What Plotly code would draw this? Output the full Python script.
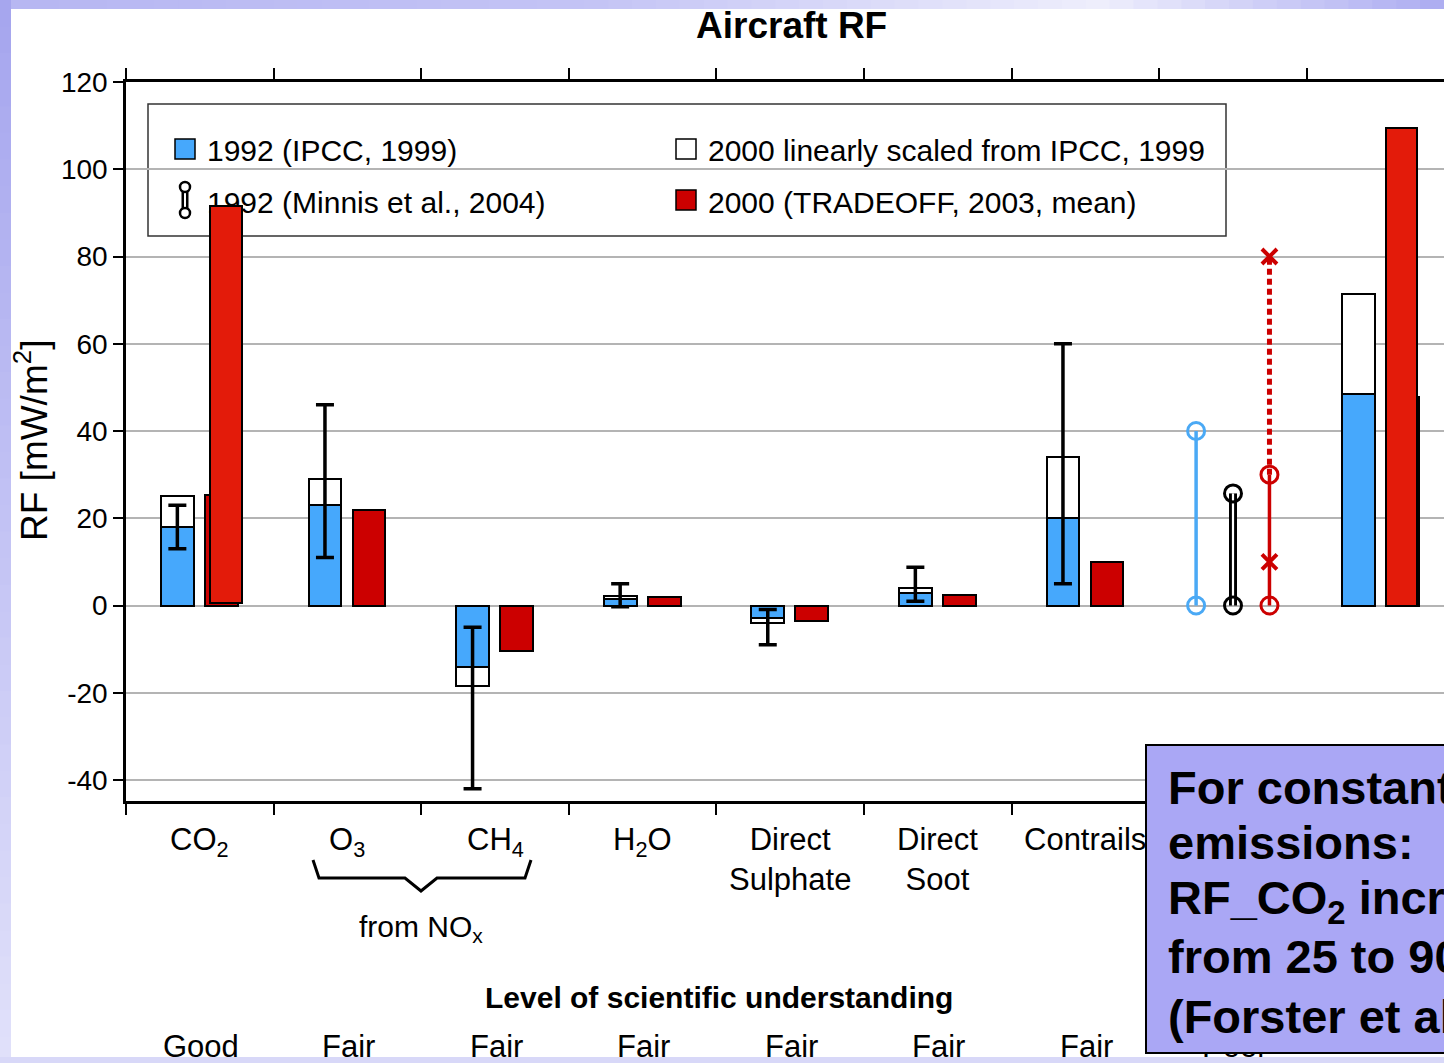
import plotly.graph_objects as go

# ---------------- data ----------------
categories = ["CO<sub>2</sub>", "O<sub>3</sub>", "CH<sub>4</sub>", "H<sub>2</sub>O",
              "Direct<br>Sulphate", "Direct<br>Soot", "Contrails", "", ""]
losu_labels = ["Good", "Fair", "Fair", "Fair", "Fair", "Fair", "Fair", "Poor", ""]
rf_1992_ipcc = [18.0, 23.0, -14.0, 1.5, -2.8, 2.9, 20.0, None, 48.5]
rf_2000_scaled = [25.0, 29.0, -18.5, 2.2, -4.0, 4.0, 34.0, None, 71.5]
rf_2000_tradeoff = [25.3, 21.9, -10.4, 2.0, -3.5, 2.5, 10.0, None, 47.8]
range_1992_low = [13.0, 11.0, -5.0, -0.3, -0.9, 1.0, 5.0, None, None]
range_1992_high = [23.0, 46.0, -42.0, 5.0, -9.0, 8.8, 60.0, None, None]
overlay_categories = [0, 8]
overlay_base = [0.6, 0.0]
overlay_top = [91.5, 109.5]
cirrus_category = 7
cirrus_ipcc_range = [0.0, 40.0]
cirrus_minnis_range = [0.0, 25.7]
cirrus_tradeoff_range = [0.0, 30.0]
cirrus_tradeoff_mean = 10.0
cirrus_tradeoff_upper = 80.0
y_ticks = [-40, -20, 0, 20, 40, 60, 80, 100, 120]
legend_labels = ["1992 (IPCC, 1999)", "1992 (Minnis et al., 2004)",
                 "2000 linearly scaled from IPCC, 1999", "2000 (TRADEOFF, 2003, mean)"]
box_lines = ["For constant aircraft", "emissions:", "RF_CO<sub>2</sub> increases",
             "from 25 to 90 mW/m²", "(Forster et al., 2006)"]

# ---------------- geometry / style ----------------
W, H = 1444, 1063
L, R, T, B = 126, 1444, 82, 801
CAT_PX = 147.6
X0 = -0.5
X1 = X0 + (R - L) / CAT_PX
Y0, Y1 = -44.8, 120.0
FONT = "Liberation Sans, Arial, Helvetica, sans-serif"
BLUE = "#46a8fc"
DRED = "#cc0000"
BRED = "#e31b0a"
BOXC = "#aaa7f5"
BOX_LINE_PX = [787, 842, 901, 956, 1016]

def px_x(px):
    return (px - L) / (R - L)

def px_y(py):
    return (B - py) / (B - T)

def dx(px):
    return X0 + (px - L) / (R - L) * (X1 - X0)

def dy(py):
    return Y1 - (py - T) / (B - T) * (Y1 - Y0)

idx = list(range(len(categories)))
BW = 0.222
OFF_B, OFF_R = -0.152, 0.146
overlay_offsets = {0: 0.176, 8: 0.142}

fig = go.Figure()

def bar(xoff, vals, color, **kw):
    return go.Bar(x=[i + xoff for i in idx], y=vals, width=BW,
                  marker=dict(color=color, line=dict(color="black", width=2)),
                  showlegend=False, hoverinfo="skip", **kw)

fig.add_trace(bar(OFF_B, rf_2000_scaled, "white"))
fig.add_trace(bar(OFF_B, rf_1992_ipcc, BLUE))
fig.add_trace(bar(OFF_R, rf_2000_tradeoff, DRED))

# uncertainty ranges
ex, ey, ee = [], [], []
for i, lo, hi in zip(idx, range_1992_low, range_1992_high):
    if lo is None:
        continue
    ex.append(i + OFF_B)
    ey.append((lo + hi) / 2)
    ee.append(abs(hi - lo) / 2)
fig.add_trace(go.Scatter(x=ex, y=ey, mode="markers",
                         marker=dict(color="rgba(0,0,0,0)", size=1),
                         error_y=dict(type="data", array=ee, symmetric=True,
                                      color="black", thickness=3.5, width=9),
                         showlegend=False, hoverinfo="skip"))

# cirrus ranges
cx = cirrus_category
fig.add_trace(go.Scatter(x=[cx - 0.25] * 2, y=cirrus_ipcc_range, mode="lines+markers",
                         line=dict(color="#4aa9f5", width=3.5),
                         marker=dict(symbol="circle-open", size=17, color="#4aa9f5",
                                     line=dict(width=3, color="#4aa9f5")),
                         showlegend=False, hoverinfo="skip"))
fig.add_trace(go.Scatter(x=[cx] * 2, y=cirrus_minnis_range, mode="lines",
                         line=dict(color="black", width=8), showlegend=False, hoverinfo="skip"))
fig.add_trace(go.Scatter(x=[cx] * 2, y=cirrus_minnis_range, mode="lines",
                         line=dict(color="white", width=2.2), showlegend=False, hoverinfo="skip"))
fig.add_trace(go.Scatter(x=[cx] * 2, y=cirrus_minnis_range, mode="markers",
                         marker=dict(symbol="circle-open", size=17, color="black",
                                     line=dict(width=3, color="black")),
                         showlegend=False, hoverinfo="skip"))
rx = cx + 0.247
fig.add_trace(go.Scatter(x=[rx] * 2, y=[cirrus_tradeoff_range[1], cirrus_tradeoff_upper],
                         mode="lines", line=dict(color=DRED, width=5, dash="6px,4px"),
                         showlegend=False, hoverinfo="skip"))
fig.add_trace(go.Scatter(x=[rx] * 2, y=cirrus_tradeoff_range, mode="lines+markers",
                         line=dict(color=DRED, width=3.5),
                         marker=dict(symbol="circle-open", size=17, color=DRED,
                                     line=dict(width=3, color=DRED)),
                         showlegend=False, hoverinfo="skip"))
fig.add_trace(go.Scatter(x=[rx] * 2, y=[cirrus_tradeoff_mean, cirrus_tradeoff_upper],
                         mode="markers",
                         marker=dict(symbol="x-thin", size=15, color=DRED,
                                     line=dict(width=4, color=DRED)),
                         showlegend=False, hoverinfo="skip"))

# legend (inside plot, drawn under the overlaid bars)
leg_sq_x = [dx(185), dx(686), dx(686)]
leg_sq_y = [dy(149), dy(149), dy(200)]
fig.add_trace(go.Scatter(x=leg_sq_x, y=leg_sq_y, mode="markers",
                         marker=dict(symbol="square", size=20, color=[BLUE, "white", DRED],
                                     line=dict(color="black", width=1.5)),
                         showlegend=False, hoverinfo="skip"))
my = [dy(187), dy(213)]
fig.add_trace(go.Scatter(x=[dx(185)] * 2, y=my, mode="lines",
                         line=dict(color="black", width=7), showlegend=False, hoverinfo="skip"))
fig.add_trace(go.Scatter(x=[dx(185)] * 2, y=my, mode="lines",
                         line=dict(color="white", width=2), showlegend=False, hoverinfo="skip"))
fig.add_trace(go.Scatter(x=[dx(185)] * 2, y=my, mode="markers",
                         marker=dict(symbol="circle", size=10, color="white",
                                     line=dict(color="black", width=2.5)),
                         showlegend=False, hoverinfo="skip"))
fig.add_trace(go.Scatter(x=[dx(207), dx(207), dx(708), dx(708)],
                         y=[dy(153), dy(205), dy(153), dy(205)],
                         mode="text", text=legend_labels, textposition="middle right",
                         textfont=dict(family=FONT, size=30, color="black"),
                         showlegend=False, hoverinfo="skip"))

# overlaid bright-red bars (pasted on top in the original)
fig.add_trace(go.Bar(x=[c + overlay_offsets[c] for c in overlay_categories],
                     y=[t - b for t, b in zip(overlay_top, overlay_base)],
                     base=overlay_base, width=0.215, yaxis="y2",
                     marker=dict(color=BRED, line=dict(color="black", width=2)),
                     showlegend=False, hoverinfo="skip"))

# ---------------- shapes ----------------
shapes = []
shapes.append(dict(type="rect", xref="paper", yref="paper", layer="below",
                   x0=px_x(-5), x1=px_x(W + 5), y0=px_y(-5), y1=px_y(H + 5),
                   fillcolor="#d6d6f8", line=dict(width=0)))
shapes.append(dict(type="rect", xref="paper", yref="paper", layer="below",
                   x0=px_x(11), x1=px_x(W + 5), y0=px_y(9), y1=px_y(1057),
                   fillcolor="white", line=dict(width=0)))

def lerp(c0, c1, t):
    return tuple(int(round(a + (b - a) * t)) for a, b in zip(c0, c1))

n = 40
for k in range(n):
    t = k / (n - 1)
    c = lerp((166, 166, 238), (224, 224, 250), t)
    shapes.append(dict(type="rect", xref="paper", yref="paper", layer="below",
                       x0=px_x(-5), x1=px_x(11), y0=px_y(H * k / n), y1=px_y(H * (k + 1) / n + 1),
                       fillcolor="rgb(%d,%d,%d)" % c, line=dict(width=0)))
top_stops = [(0, (182, 182, 242)), (600, (196, 196, 245)), (1100, (238, 238, 252)), (1444, (172, 172, 241))]
n = 60
for k in range(n):
    xa = 11 + (W - 11) * k / n
    xb = 11 + (W - 11) * (k + 1) / n + 1
    xm = (xa + xb) / 2
    for (p0, c0), (p1, c1) in zip(top_stops[:-1], top_stops[1:]):
        if p0 <= xm <= p1:
            c = lerp(c0, c1, (xm - p0) / (p1 - p0))
            break
    shapes.append(dict(type="rect", xref="paper", yref="paper", layer="below",
                       x0=px_x(xa), x1=px_x(xb), y0=px_y(-5), y1=px_y(9),
                       fillcolor="rgb(%d,%d,%d)" % c, line=dict(width=0)))
# legend box
shapes.append(dict(type="rect", xref="paper", yref="paper", layer="between",
                   x0=px_x(148), x1=px_x(1226), y0=px_y(104), y1=px_y(236),
                   fillcolor="white", line=dict(color="#333333", width=1.5)))
# brace under O3 / CH4
pts = [(313, 860), (319, 878), (405, 878), (421, 891), (437, 878), (525, 878), (531, 860)]
path = "M " + " L ".join("%.5f,%.5f" % (px_x(a), px_y(b)) for a, b in pts)
shapes.append(dict(type="path", xref="paper", yref="paper", path=path, layer="above",
                   line=dict(color="black", width=3)))

# ---------------- annotations ----------------
ann = []
def text(t, x, y, size, bold=False, **kw):
    d = dict(text="<b>%s</b>" % t if bold else t, xref="paper", yref="paper", x=x, y=y,
             xanchor="center", yanchor="middle", showarrow=False,
             font=dict(family=FONT, size=size, color="black"))
    d.update(kw)
    return d

ann.append(text("Aircraft RF", px_x(791), px_y(25), 37, bold=True))
ann.append(text("RF [mW/m<sup>2</sup>]", px_x(31), px_y(441), 37, textangle=-90))
for i, lab in zip(idx, categories):
    if lab:
        ann.append(text(lab, px_x(L + (i + 0.5) * CAT_PX), px_y(820), 31, yanchor="top"))
ann.append(text("from NO<sub>x</sub>", px_x(421), px_y(928), 30))
ann.append(text("Level of scientific understanding", px_x(719), px_y(997), 30, bold=True))
for i, lab in zip(idx, losu_labels):
    if lab:
        ann.append(text(lab, px_x(L + (i + 0.5) * CAT_PX + 1), px_y(1046), 31))
# bottom frame strip (covers the cut-off text)
ann.append(dict(text=" ", xref="paper", yref="paper", x=px_x(-5), y=px_y(1057), xanchor="left",
                yanchor="top", width=W + 20, height=10, bgcolor="#d8d8f8", borderwidth=0,
                borderpad=0, showarrow=False))
# text box
ann.append(dict(text=" ", xref="paper", yref="paper", x=px_x(1145), y=px_y(744), xanchor="left",
                yanchor="top", width=360, height=306, bgcolor=BOXC, bordercolor="black",
                borderwidth=2, borderpad=0, showarrow=False))
for line, ypx in zip(box_lines, BOX_LINE_PX):
    ann.append(text(line, px_x(1166), px_y(ypx), 47, bold=True, xanchor="left"))

fig.update_layout(
    width=W, height=H,
    margin=dict(l=L, r=W - R, t=T, b=H - B, pad=0),
    paper_bgcolor="white", plot_bgcolor="rgba(0,0,0,0)",
    barmode="overlay", bargap=0,
    font=dict(family=FONT, color="black"),
    shapes=shapes, annotations=ann,
    xaxis=dict(range=[X0, X1], tickvals=[X0 + k for k in range(10)], showticklabels=False,
               ticks="outside", ticklen=11, tickwidth=1.5, tickcolor="black",
               showline=True, linecolor="black", linewidth=2.5, mirror="ticks",
               showgrid=False, zeroline=False),
    yaxis=dict(range=[Y0, Y1], tickvals=y_ticks, ticktext=[str(v) for v in y_ticks],
               tickfont=dict(family=FONT, size=28, color="black"),
               ticks="outside", ticklen=10, tickwidth=1.5, tickcolor="black",
               showline=True, linecolor="black", linewidth=2.5,
               showgrid=True, gridcolor="#b4b4b4", gridwidth=1.5, zeroline=False),
    yaxis2=dict(range=[Y0, Y1], overlaying="y", visible=False),
)

fig.write_html("out.html", config={"displayModeBar": False},
               post_script="document.body.style.margin='0';document.body.style.overflow='hidden';")
